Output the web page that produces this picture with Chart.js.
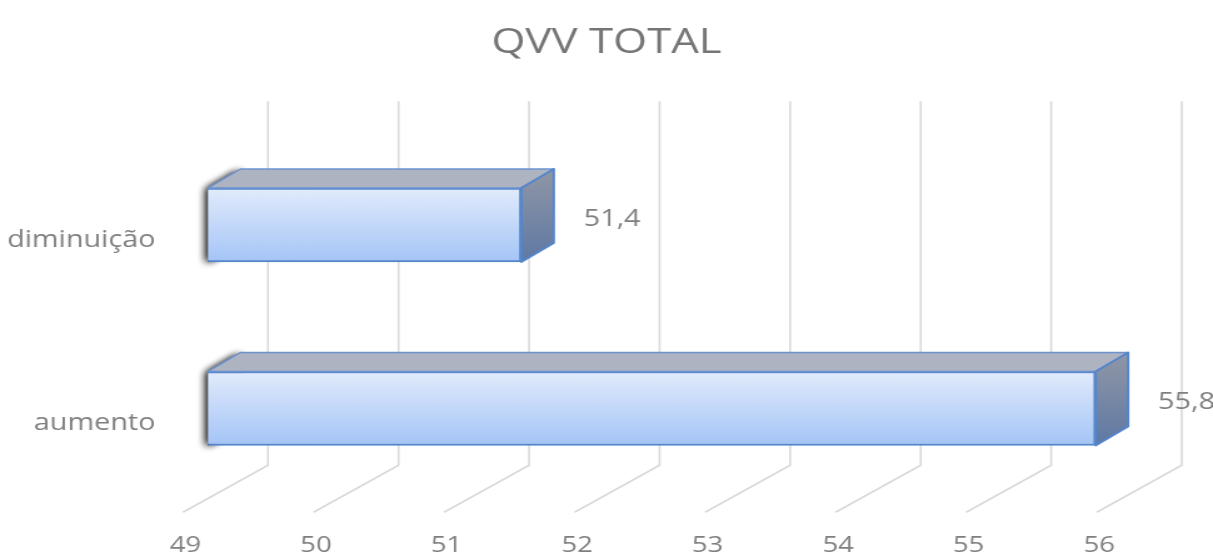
<!DOCTYPE html>
<html>
<head>
<meta charset="UTF-8">
<title>QVV TOTAL</title>
<style>
  html, body { margin: 0; padding: 0; background: #fff; overflow: hidden; }
  /* the original picture is stretched sideways, so the whole chart is too */
  #wrap {
    width: 970px;
    height: 560px;
    transform: scaleX(1.2505);
    transform-origin: 0 0;
  }
</style>
</head>
<body>
<div id="wrap"><canvas id="chart"></canvas></div>

<script src="https://cdn.jsdelivr.net/npm/chart.js"></script>
<script>
const categories = ['diminuição', 'aumento'];
const values = [51.4, 55.8];
const xTicks = [49, 50, 51, 52, 53, 54, 55, 56];

const textColor = '#7f7f7f';
const font = 'Open Sans';
const depth = { x: 26, y: -19 }; // offset of the back face of each bar

// back gridlines, floor lines, the 3D faces and the value labels
const bar3d = {
  id: 'bar3d',
  beforeDatasetsDraw(chart) {
    const { ctx, chartArea, scales: { x } } = chart;
    ctx.save();
    ctx.strokeStyle = '#d9d9d9';
    ctx.lineWidth = 1.6;
    xTicks.forEach(v => {
      const px = x.getPixelForValue(v);
      ctx.beginPath();
      ctx.moveTo(px + 48, chartArea.top - 32);
      ctx.lineTo(px + 48, chartArea.bottom - 35);
      ctx.lineTo(px - 20, chartArea.bottom + 12);
      ctx.stroke();
    });

    // dark shadow round the hidden left end of each bar
    chart.getDatasetMeta(0).data.forEach(bar => {
      const left = Math.max(bar.base, chartArea.left);
      const top = bar.y - bar.height / 2;
      const bottom = bar.y + bar.height / 2;
      ctx.save();
      ctx.shadowColor = 'rgba(0,0,0,0.8)';
      ctx.shadowBlur = 7;
      ctx.shadowOffsetX = -1;
      ctx.shadowOffsetY = 1;
      ctx.fillStyle = '#555';
      ctx.beginPath();
      ctx.moveTo(left, top);
      ctx.lineTo(left + depth.x, top + depth.y);
      ctx.lineTo(left + depth.x, bottom + depth.y);
      ctx.lineTo(left, bottom);
      ctx.closePath();
      ctx.fill();
      ctx.fill();
      ctx.restore();
    });
    ctx.restore();
  },
  afterDatasetsDraw(chart) {
    const { ctx, chartArea } = chart;
    ctx.save();
    ctx.lineJoin = 'round';
    chart.getDatasetMeta(0).data.forEach((bar, i) => {
      const left = Math.max(bar.base, chartArea.left);
      const top = bar.y - bar.height / 2;
      const bottom = bar.y + bar.height / 2;

      // top face
      ctx.beginPath();
      ctx.moveTo(left, top);
      ctx.lineTo(left + depth.x, top + depth.y);
      ctx.lineTo(bar.x + depth.x, top + depth.y);
      ctx.lineTo(bar.x, top);
      ctx.closePath();
      ctx.fillStyle = '#adb3c1';
      ctx.fill();
      ctx.strokeStyle = '#6c93d0';
      ctx.lineWidth = 1.5;
      ctx.stroke();

      // end face
      const g = ctx.createLinearGradient(0, top + depth.y, 0, bottom);
      g.addColorStop(0, '#9097a6');
      g.addColorStop(1, '#5f78a4');
      ctx.beginPath();
      ctx.moveTo(bar.x, top);
      ctx.lineTo(bar.x + depth.x, top + depth.y);
      ctx.lineTo(bar.x + depth.x, bottom + depth.y);
      ctx.lineTo(bar.x, bottom);
      ctx.closePath();
      ctx.fillStyle = g;
      ctx.fill();
      ctx.strokeStyle = '#5486cc';
      ctx.lineWidth = 2;
      ctx.stroke();

      // value label
      ctx.fillStyle = textColor;
      ctx.font = `23px "${font}"`;
      ctx.textAlign = 'left';
      ctx.textBaseline = 'middle';
      ctx.fillText(values[i].toFixed(1).replace('.', ','), bar.x + 50, bar.y - 6);
    });
    ctx.restore();
  }
};

new Chart(document.getElementById('chart'), {
  type: 'bar',
  data: {
    labels: categories,
    datasets: [{
      data: values,
      barThickness: 74,
      borderWidth: 2,
      borderSkipped: false,
      borderColor: '#5486cc',
      backgroundColor: (c) => {
        const ys = c.chart.scales.y;
        if (!ys || c.type !== 'data') return '#c6dbf9';
        const yc = ys.getPixelForValue(c.dataIndex);
        if (!Number.isFinite(yc)) return '#c6dbf9';
        const g = c.chart.ctx.createLinearGradient(0, yc - 37, 0, yc + 37);
        g.addColorStop(0, '#e1ebfc');
        g.addColorStop(1, '#a4c4f6');
        return g;
      }
    }]
  },
  options: {
    indexAxis: 'y',
    responsive: true,
    maintainAspectRatio: false,
    animation: false,
    layout: { padding: 0 },
    plugins: {
      legend: { display: false },
      tooltip: { enabled: false },
      title: {
        display: true,
        text: 'QVV TOTAL',
        color: '#757575',
        font: { family: font, size: 35, weight: 'normal' },
        padding: { top: 22, bottom: 69.25 }
      }
    },
    scales: {
      x: {
        min: xTicks[0],
        max: xTicks[xTicks.length - 1],
        grid: { display: false, drawTicks: false },
        border: { display: false },
        ticks: {
          stepSize: 1,
          color: textColor,
          font: { family: font, size: 22 },
          labelOffset: -18,
          padding: 32
        },
        afterFit: (scale) => { scale.height = 59.75; }
      },
      y: {
        grid: { display: false, drawTicks: false },
        border: { display: false },
        ticks: {
          color: textColor,
          font: { family: font, size: 23 },
          labelOffset: 15,
          padding: 42
        },
        afterFit: (scale) => { scale.width = 166.3; }
      },
      // empty strip on the right, room for the 3D depth and the last label
      right: {
        type: 'linear',
        position: 'right',
        grid: { display: false, drawTicks: false },
        border: { display: false },
        ticks: { display: false },
        afterFit: (scale) => { scale.width = 73; }
      }
    }
  },
  plugins: [bar3d]
});
</script>
</body>
</html>
